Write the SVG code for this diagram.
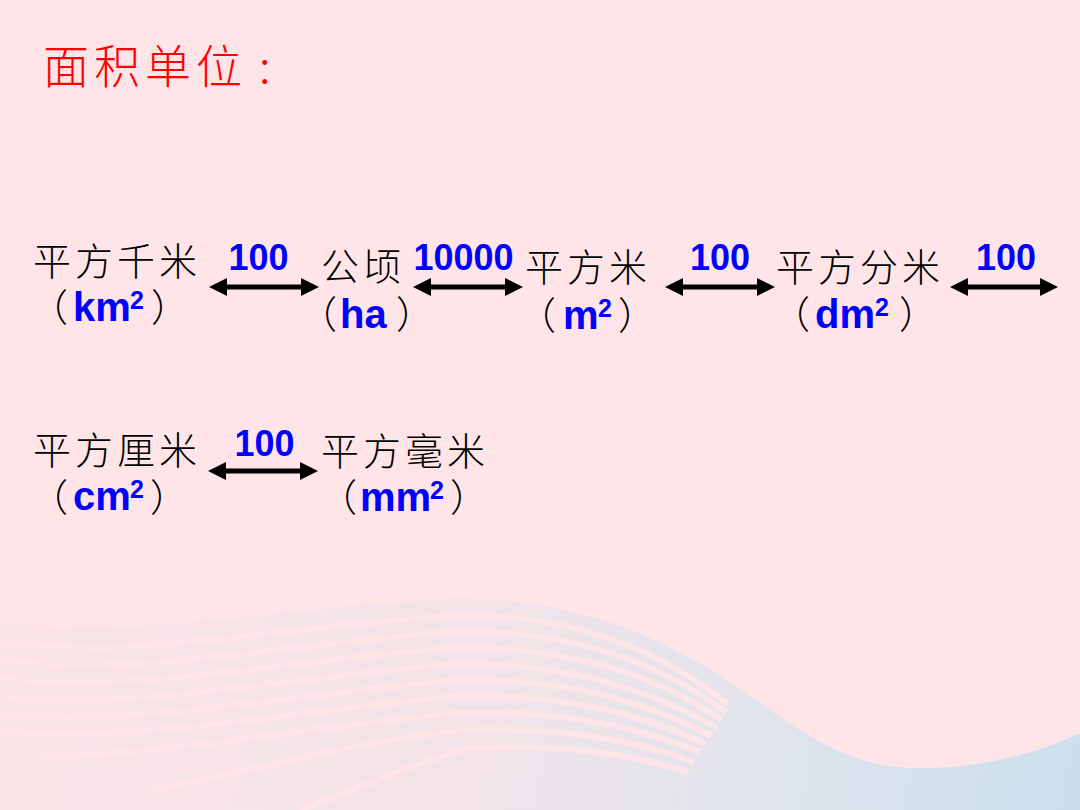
<svg xmlns="http://www.w3.org/2000/svg" width="1080" height="810" viewBox="0 0 1080 810">
  <style>
    .cn { font-family: "Noto Sans CJK SC", sans-serif; font-size: 38px; fill: #000; letter-spacing: 4px; font-weight: 300; }
    .par { font-family: "Noto Sans CJK SC", sans-serif; font-size: 38px; fill: #000; font-weight: 300; letter-spacing: 0; }
    .unit { font-family: "Liberation Sans", Arial, sans-serif; font-size: 40px; font-weight: bold; fill: #0000FF; letter-spacing: 0; }
    .sup { font-family: "Liberation Sans", Arial, sans-serif; font-size: 25px; font-weight: bold; fill: #0000FF; letter-spacing: 0; }
    .num { font-family: "Liberation Sans", Arial, sans-serif; font-size: 36px; font-weight: bold; fill: #0000FF; text-anchor: middle; }
    .title { font-family: "Noto Sans CJK SC", sans-serif; font-size: 46px; fill: #FF0000; letter-spacing: 5px; font-weight: 300; }
    .arrow { stroke: #000; stroke-width: 5; fill: none; marker-start: url(#head); marker-end: url(#head); }
    .stripe { fill: none; stroke: #FFE4E8; stroke-width: 6; }
  </style>
  <defs>
    <marker id="head" markerUnits="userSpaceOnUse" markerWidth="18" markerHeight="20" viewBox="0 0 18 20" refX="8" refY="10" orient="auto-start-reverse">
      <path d="M0,1 L18,10 L0,19 Z" fill="#000"/>
    </marker>
    <linearGradient id="wave" gradientUnits="userSpaceOnUse" x1="0" y1="640" x2="1080" y2="810">
      <stop offset="0" stop-color="#FAE4E8"/>
      <stop offset="0.45" stop-color="#F1E3E9"/>
      <stop offset="0.7" stop-color="#E0E4EC"/>
      <stop offset="1" stop-color="#CBE0EC"/>
    </linearGradient>
  </defs>

  <rect width="1080" height="810" fill="#FFE5E8"/>

  <g id="background-wave">
    <path d="M0,623 C120,640 260,610 448,599 C590,595 690,650 770,710 C830,752 870,770 930,768 C990,766 1040,752 1080,733 L1080,810 L0,810 Z" fill="url(#wave)"/>
    <path class="stripe" d="M0,642 C130,660 270,628 448,616 C570,612 660,650 728,704"/>
    <path class="stripe" d="M0,660 C130,678 280,645 450,632 C570,628 660,664 726,712"/>
    <path class="stripe" d="M0,678 C130,695 290,660 452,648 C570,645 660,678 722,720"/>
    <path class="stripe" d="M0,696 C130,712 300,676 455,664 C570,662 655,692 718,728"/>
    <path class="stripe" d="M0,714 C130,728 310,692 458,680 C570,678 650,704 712,736"/>
    <path class="stripe" d="M0,732 C130,744 320,708 460,696 C570,694 645,716 706,744"/>
    <path class="stripe" d="M40,756 C160,756 330,724 462,713 C570,711 640,728 700,752"/>
    <path class="stripe" d="M150,790 C260,770 360,740 466,730 C570,728 635,740 694,762"/>
    <path class="stripe" d="M300,810 C370,785 420,760 470,748 C570,744 630,754 688,772"/>
  </g>

  <g id="title">
    <text class="title" x="43" y="83">面积单位<tspan x="259">:</tspan></text>
  </g>

  <g id="connectors">
    <line class="arrow" x1="219" y1="287" x2="309" y2="287"/>
    <line class="arrow" x1="423" y1="287" x2="513" y2="287"/>
    <line class="arrow" x1="675" y1="287" x2="765" y2="287"/>
    <line class="arrow" x1="960" y1="287" x2="1048" y2="287"/>
    <line class="arrow" x1="218" y1="471" x2="308" y2="471"/>
    <text class="num" x="258.5" y="270">100</text>
    <text class="num" x="463.5" y="270">10000</text>
    <text class="num" x="720" y="270">100</text>
    <text class="num" x="1006" y="270">100</text>
    <text class="num" x="264.5" y="456">100</text>
  </g>

  <g id="node-km2">
    <text><tspan class="cn" x="33" y="275">平方千米</tspan><tspan class="par" x="30" y="321">（</tspan><tspan class="unit" x="73" y="321">km</tspan><tspan class="sup" x="130" y="309">2</tspan><tspan class="par" x="151" y="321">）</tspan></text>
  </g>

  <g id="node-ha">
    <text><tspan class="cn" x="321" y="280">公顷</tspan><tspan class="par" x="299" y="328">（</tspan><tspan class="unit" x="340" y="328">ha</tspan><tspan class="par" x="396" y="328">）</tspan></text>
  </g>

  <g id="node-m2">
    <text><tspan class="cn" x="525" y="281">平方米</tspan><tspan class="par" x="518" y="329">（</tspan><tspan class="unit" x="563" y="329">m</tspan><tspan class="sup" x="598" y="317">2</tspan><tspan class="par" x="618" y="329">）</tspan></text>
  </g>

  <g id="node-dm2">
    <text><tspan class="cn" x="776" y="281">平方分米</tspan><tspan class="par" x="772" y="328">（</tspan><tspan class="unit" x="815" y="328">dm</tspan><tspan class="sup" x="875" y="316">2</tspan><tspan class="par" x="899" y="328">）</tspan></text>
  </g>

  <g id="node-cm2">
    <text><tspan class="cn" x="33" y="464">平方厘米</tspan><tspan class="par" x="30" y="511">（</tspan><tspan class="unit" x="73" y="510">cm</tspan><tspan class="sup" x="130" y="498">2</tspan><tspan class="par" x="150" y="511">）</tspan></text>
  </g>

  <g id="node-mm2">
    <text><tspan class="cn" x="321" y="465">平方毫米</tspan><tspan class="par" x="319" y="511">（</tspan><tspan class="unit" x="360" y="511">mm</tspan><tspan class="sup" x="430" y="499">2</tspan><tspan class="par" x="450" y="511">）</tspan></text>
  </g>
</svg>
